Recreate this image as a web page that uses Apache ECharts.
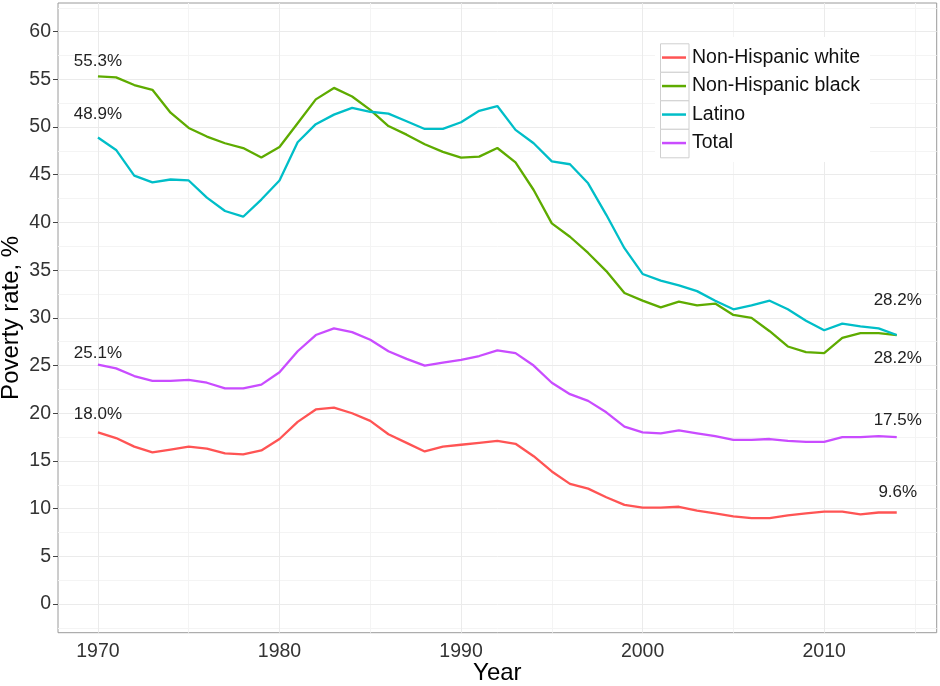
<!DOCTYPE html>
<html>
<head>
<meta charset="utf-8">
<script src="https://cdn.jsdelivr.net/npm/echarts@6/dist/echarts.min.js"></script>
<style>
  html, body { margin: 0; padding: 0; background: #fff; }
  #chart { width: 940px; height: 686px; }
</style>
</head>
<body>
<div id="chart"></div>
<script>
// ---- data ----
const years = [1970,1971,1972,1973,1974,1975,1976,1977,1978,1979,
               1980,1981,1982,1983,1984,1985,1986,1987,1988,1989,
               1990,1991,1992,1993,1994,1995,1996,1997,1998,1999,
               2000,2001,2002,2003,2004,2005,2006,2007,2008,2009,
               2010,2011,2012,2013,2014];
const seriesNames = ["Non-Hispanic white", "Non-Hispanic black", "Latino", "Total"];
const white = [18.0,17.4,16.5,15.9,16.2,16.5,16.3,15.8,15.7,16.1,
               17.3,19.1,20.4,20.6,20.0,19.2,17.8,16.9,16.0,16.5,
               16.7,16.9,17.1,16.8,15.5,13.9,12.6,12.1,11.2,10.4,
               10.1,10.1,10.2,9.8,9.5,9.2,9.0,9.0,9.3,9.5,
               9.7,9.7,9.4,9.6,9.6];
const black = [55.3,55.2,54.4,53.9,51.5,49.9,49.0,48.3,47.8,46.8,
               47.9,50.4,52.9,54.1,53.2,51.8,50.1,49.2,48.2,47.4,
               46.8,46.9,47.8,46.3,43.4,39.9,38.5,36.8,34.9,32.6,
               31.8,31.1,31.7,31.3,31.5,30.3,30.0,28.6,27.0,26.4,
               26.3,27.9,28.4,28.4,28.2];
const latino = [48.9,47.6,44.9,44.2,44.5,44.4,42.6,41.2,40.6,42.4,
                44.4,48.4,50.3,51.3,52.0,51.6,51.4,50.6,49.8,49.8,
                50.5,51.7,52.2,49.7,48.3,46.4,46.1,44.1,40.8,37.3,
                34.6,33.9,33.4,32.8,31.8,30.9,31.3,31.8,30.9,29.7,
                28.7,29.4,29.1,28.9,28.2];
const total = [25.1,24.7,23.9,23.4,23.4,23.5,23.2,22.6,22.6,23.0,
               24.3,26.5,28.2,28.9,28.5,27.7,26.5,25.7,25.0,25.3,
               25.6,26.0,26.6,26.3,25.0,23.2,22.0,21.3,20.1,18.6,
               18.0,17.9,18.2,17.9,17.6,17.2,17.2,17.3,17.1,17.0,
               17.0,17.5,17.5,17.6,17.5];
const xTicks = [1970, 1980, 1990, 2000, 2010];
const xMinor = [1975, 1985, 1995, 2005, 2015];
const yTicks = [0, 5, 10, 15, 20, 25, 30, 35, 40, 45, 50, 55, 60];
const yMinor = [-2.5, 2.5, 7.5, 12.5, 17.5, 22.5, 27.5, 32.5, 37.5, 42.5, 47.5, 52.5, 57.5, 62.5];

// ---- styling ----
const colors = ['#FF5454', '#5EAB00', '#00BEC8', '#C94CFF'];
const seriesData = [white, black, latino, total];
// label offsets (px) for the start / end value annotations
const startOffsets = [-18, -15, -23, -11];
const endOffsets = [-20, 23, -35, -17];

const first = years[0], last = years[years.length - 1];
const gridL = 58, gridT = 3, gridR = 3.3, gridB = 53.3;

function pairs(arr) { return years.map((y, i) => [y, arr[i]]); }
function fmt(v) { return v.toFixed(1) + '%'; }

const lineSeries = seriesNames.map((name, k) => {
  const arr = seriesData[k];
  return {
    name: name,
    type: 'line',
    data: pairs(arr),
    showSymbol: false,
    symbol: 'none',
    lineStyle: { width: 2.3, color: colors[k] },
    itemStyle: { color: colors[k] },
    z: 3,
    markPoint: {
      symbol: 'circle',
      symbolSize: 1,
      itemStyle: { color: 'rgba(0,0,0,0)' },
      silent: true,
      label: {
        show: true,
        position: 'inside',
        color: '#222',
        fontSize: 17,
        fontFamily: 'Liberation Sans, Arial, sans-serif'
      },
      data: [
        { coord: [first, arr[0]], label: { formatter: fmt(arr[0]), offset: [0, startOffsets[k]] } },
        { coord: [last, arr[arr.length - 1]], label: { formatter: fmt(arr[arr.length - 1]), offset: [1, endOffsets[k]] } }
      ]
    }
  };
});

const gridSeries = {
  name: '_grid',
  type: 'line',
  data: [],
  z: 1,
  silent: true,
  markLine: {
    silent: true,
    z: 1,
    symbol: ['none', 'none'],
    label: { show: false },
    animation: false,
    data: [].concat(
      xMinor.map(v => ({ xAxis: v, lineStyle: { color: '#f4f4f4', width: 1, type: 'solid' } })),
      yMinor.map(v => ({ yAxis: v, lineStyle: { color: '#f4f4f4', width: 1, type: 'solid' } })),
      xTicks.map(v => ({ xAxis: v, lineStyle: { color: '#ebebeb', width: 1, type: 'solid' } })),
      yTicks.map(v => ({ yAxis: v, lineStyle: { color: '#ebebeb', width: 1, type: 'solid' } }))
    )
  }
};

const chart = echarts.init(document.getElementById('chart'), null, { renderer: 'canvas' });

const legendTop = 43.3, rowH = 28.5;
const graphics = [
  { type: 'rect', shape: { x: 655, y: 37, width: 215, height: 125 }, style: { fill: '#fff' }, z: 2, silent: true }
];
seriesNames.forEach((n, i) => {
  graphics.push({
    type: 'rect',
    shape: { x: 660.5, y: legendTop + i * rowH + 0.5, width: 28.5, height: rowH },
    style: { fill: '#fff', stroke: '#cfcfcf', lineWidth: 1 },
    z: 2, silent: true
  });
});

chart.setOption({
  animation: false,
  backgroundColor: '#fff',
  textStyle: { fontFamily: 'Liberation Sans, Arial, sans-serif' },
  grid: {
    left: gridL, top: gridT, right: gridR, bottom: gridB,
    outerBoundsMode: 'none',
    show: true, borderColor: '#9a9a9a', borderWidth: 1, backgroundColor: '#fff', containLabel: false
  },
  graphic: graphics,
  legend: {
    data: seriesNames,
    orient: 'vertical',
    left: 662,
    top: legendTop,
    padding: 0,
    itemGap: 0,
    itemWidth: 24,
    itemHeight: 2.5,
    icon: 'rect',
    z: 4,
    selectedMode: false,
    textStyle: { fontSize: 19.5, color: '#111', lineHeight: rowH, padding: [0, 0, 0, 1] }
  },
  xAxis: {
    type: 'value',
    min: 1967.8,
    max: 2016.2,
    name: 'Year',
    nameLocation: 'middle',
    nameGap: 29,
    nameMoveOverlap: false,
    nameTextStyle: { fontSize: 24, color: '#000' },
    axisLine: { show: false },
    axisTick: { show: true, length: 5, customValues: xTicks, lineStyle: { color: '#444' } },
    axisLabel: { customValues: xTicks, fontSize: 19.5, color: '#333', margin: 9, formatter: v => String(v) },
    splitLine: { show: false }
  },
  yAxis: {
    type: 'value',
    min: -3,
    max: 63,
    name: 'Poverty rate, %',
    nameLocation: 'middle',
    nameGap: 35,
    nameMoveOverlap: false,
    nameTextStyle: { fontSize: 24, color: '#000' },
    axisLine: { show: false },
    axisTick: { show: true, length: 5, customValues: yTicks, lineStyle: { color: '#444' } },
    axisLabel: { customValues: yTicks, fontSize: 19.5, color: '#333', margin: 7, formatter: v => String(v) },
    splitLine: { show: false }
  },
  series: [gridSeries].concat(lineSeries)
});
</script>
</body>
</html>
